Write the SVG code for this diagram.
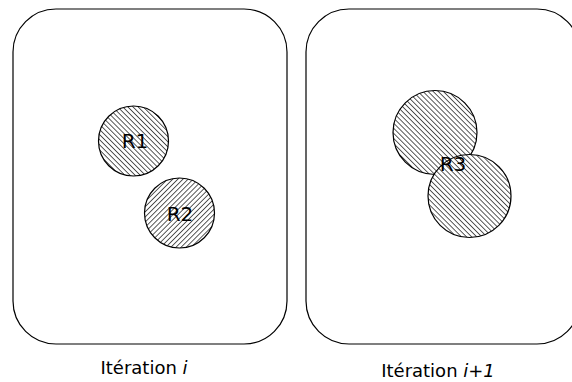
<svg xmlns="http://www.w3.org/2000/svg" width="572" height="382" viewBox="0 0 572 382">
  <style>
    .frame { fill: #ffffff; stroke: #000000; stroke-width: 1.2; }
    .region { stroke: #000000; stroke-width: 1.2; }
    .back { fill: url(#hatchBack); }
    .fwd { fill: url(#hatchFwd); }
    .label { font-family: "DejaVu Sans", Verdana, sans-serif; font-size: 20px; fill: #000000; text-anchor: middle; }
    .caption { font-family: "DejaVu Sans", Verdana, sans-serif; font-size: 18px; fill: #000000; text-anchor: middle; }
  </style>
  <defs>
    <!-- hatching running top-left to bottom-right -->
    <pattern id="hatchBack" patternUnits="userSpaceOnUse" width="3.6" height="3.6" patternTransform="rotate(-45)">
      <rect width="3.6" height="3.6" fill="#ffffff"/>
      <line x1="0" y1="0" x2="0" y2="3.6" stroke="#000000" stroke-width="1.3"/>
    </pattern>
    <!-- hatching running bottom-left to top-right -->
    <pattern id="hatchFwd" patternUnits="userSpaceOnUse" width="3.6" height="3.6" patternTransform="rotate(45)">
      <rect width="3.6" height="3.6" fill="#ffffff"/>
      <line x1="0" y1="0" x2="0" y2="3.6" stroke="#000000" stroke-width="1.3"/>
    </pattern>
  </defs>

  <g id="iteration-i">
    <rect class="frame" x="13" y="9" width="274" height="335" rx="43" ry="43"/>
    <text class="caption" x="144" y="374">Itération <tspan font-style="italic">i</tspan></text>
  </g>

  <g id="iteration-i1">
    <rect class="frame" x="306" y="9" width="274" height="335" rx="43" ry="43"/>
    <text class="caption" x="438" y="377" font-size="19">Itération <tspan font-style="italic">i+1</tspan></text>
  </g>

  <g id="R1">
    <circle class="region back" cx="133.5" cy="141" r="35"/>
    <text class="label" x="135" y="148">R1</text>
  </g>

  <g id="R2">
    <circle class="region fwd" cx="179.5" cy="213" r="35"/>
    <text class="label" x="180" y="221">R2</text>
  </g>

  <g id="R3">
    <circle class="region back" cx="435" cy="132.5" r="42"/>
    <circle class="region back" cx="469.5" cy="196" r="41.5"/>
    <text class="label" x="453" y="171">R3</text>
  </g>
</svg>
